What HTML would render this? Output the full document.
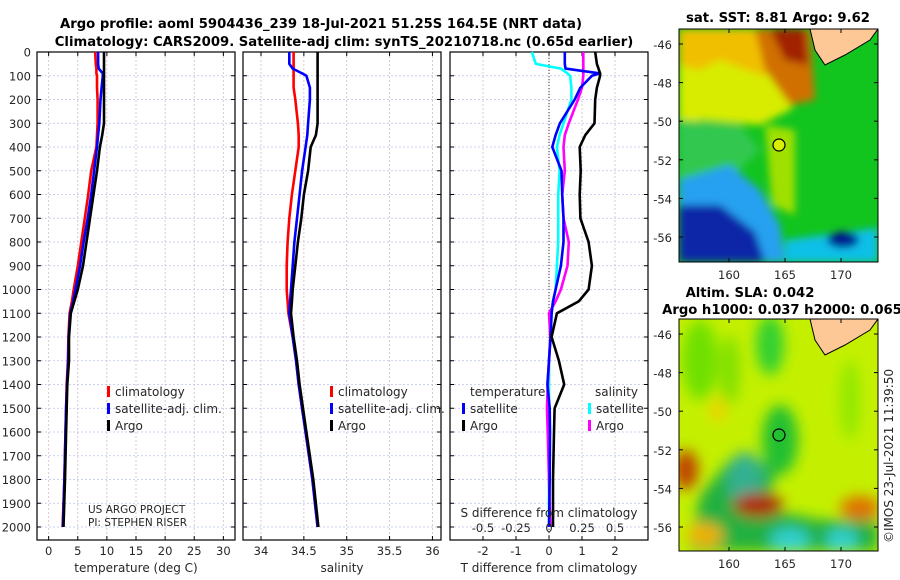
<!DOCTYPE html>
<html><head><meta charset="utf-8"><style>
body{margin:0;background:#fff;}
svg{display:block;font-family:"DejaVu Sans","Liberation Sans",sans-serif;}
.t{font-size:12px;fill:#262626}
.k{font-size:11.5px;fill:#262626}
.ti{font-size:13.2px;font-weight:bold;fill:#000}
</style></head><body>
<svg id="c" width="900" height="580" xmlns="http://www.w3.org/2000/svg">
<defs>
<filter id="bl" x="-20%" y="-20%" width="140%" height="140%"><feGaussianBlur stdDeviation="7"/></filter>
<filter id="bl2" x="-20%" y="-20%" width="140%" height="140%"><feGaussianBlur stdDeviation="4"/></filter>
<clipPath id="m1"><rect x="679" y="29" width="199" height="233"/></clipPath>
<clipPath id="m2"><rect x="679" y="319" width="199" height="232"/></clipPath>
</defs>
<text class="ti" x="321" y="28" text-anchor="middle">Argo profile: aoml 5904436_239 18-Jul-2021 51.25S 164.5E (NRT data)</text>
<text class="ti" x="344" y="46" text-anchor="middle">Climatology: CARS2009. Satellite-adj clim: synTS_20210718.nc (0.65d earlier)</text>

<!-- SST map -->
<g clip-path="url(#m1)">
<rect x="679" y="29" width="199" height="233" fill="#12c41e"/>
<g filter="url(#bl2)">
<path d="M679,29 L800,29 L810,80 L790,110 L760,125 L700,120 L679,135 Z" fill="#d8ec00"/>
<path d="M679,29 L790,29 L800,70 L760,75 L720,60 L700,70 L679,65 Z" fill="#f0c000"/>
<path d="M755,29 L810,29 L815,100 L790,105 L765,70 Z" fill="#d07000"/>
<path d="M770,29 L805,29 L808,65 L785,60 Z" fill="#a02000"/>
<path d="M679,120 L740,125 L760,150 L740,170 L720,180 L679,185 Z" fill="#30c850"/>
<path d="M765,125 L795,130 L795,215 L772,205 Z" fill="#a0e000"/>
<path d="M679,180 L730,165 L760,190 L780,225 L785,262 L679,262 Z" fill="#28a0f0"/>
<path d="M679,205 L720,205 L755,232 L765,262 L679,262 Z" fill="#0828a8"/>
<path d="M785,240 L878,228 L878,262 L785,262 Z" fill="#10c0e8"/>
<ellipse cx="843" cy="240" rx="16" ry="8" fill="#001890"/>
</g>
<path d="M810,29 L878,29 L870,40 L845,55 L825,65 L815,50 Z" fill="#fdc896" stroke="#000" stroke-width="1"/>
<circle cx="779" cy="145" r="6" fill="#d8f000" stroke="#000" stroke-width="1.2"/>
</g>
<rect x="679" y="29" width="199" height="233" fill="none" stroke="#000"/>
<text class="ti" x="778" y="22" text-anchor="middle">sat. SST: 8.81 Argo: 9.62</text>

<!-- SLA map -->
<g clip-path="url(#m2)">
<rect x="679" y="319" width="199" height="232" fill="#c4f000"/>
<g filter="url(#bl)">
<ellipse cx="700" cy="360" rx="18" ry="40" fill="#70e000"/>
<ellipse cx="770" cy="345" rx="14" ry="30" fill="#30d030"/>
<ellipse cx="730" cy="370" rx="10" ry="35" fill="#80e000"/>
<ellipse cx="780" cy="440" rx="18" ry="35" fill="#20c030"/>
<ellipse cx="850" cy="400" rx="10" ry="40" fill="#90e800"/>
<path d="M730,460 L775,465 L770,510 L820,520 L878,520 L878,551 L690,551 L700,495 Z" fill="#20b040"/>
<ellipse cx="745" cy="480" rx="18" ry="28" fill="#30b090"/>
<ellipse cx="790" cy="540" rx="20" ry="12" fill="#30d0d0"/>
<ellipse cx="842" cy="540" rx="16" ry="12" fill="#30d0d0"/>
<ellipse cx="758" cy="505" rx="25" ry="12" fill="#b02000"/>
<ellipse cx="686" cy="470" rx="12" ry="20" fill="#c04000"/>
<ellipse cx="860" cy="508" rx="20" ry="12" fill="#e07000"/>
<ellipse cx="705" cy="535" rx="18" ry="12" fill="#f0b000"/>
<ellipse cx="718" cy="410" rx="8" ry="12" fill="#f0d000"/>
</g>
<path d="M810,319 L878,319 L870,330 L845,345 L825,355 L815,340 Z" fill="#fdc896" stroke="#000" stroke-width="1"/>
<circle cx="779" cy="435" r="6" fill="none" stroke="#000" stroke-width="1.2"/>
</g>
<rect x="679" y="319" width="199" height="232" fill="none" stroke="#000"/>
<text class="ti" x="750" y="297" text-anchor="middle">Altim. SLA: 0.042</text>
<text class="ti" x="782" y="314" text-anchor="middle">Argo h1000: 0.037 h2000: 0.065</text>
<text class="t" transform="translate(893,543) rotate(-90)">©IMOS 23-Jul-2021 11:39:50</text>
<g id="dyn"></g>
</svg>
<script>
// ---- data ----
const depths = [0,50,70,90,100,150,200,300,350,400,500,600,700,800,900,1000,1050,1100,1200,1300,1400,1500,1600,1800,2000];
const tClim  = [8.0,8.1,8.2,8.2,8.3,8.3,8.4,8.4,8.3,8.2,7.3,6.8,6.2,5.6,5.0,4.3,4.0,3.6,3.4,3.3,3.1,3.0,2.9,2.7,2.4];
const tSat   = [8.5,8.5,8.6,9.3,9.3,9.1,8.9,8.7,8.5,8.3,7.8,7.3,6.7,6.0,5.4,4.6,4.2,3.7,3.45,3.35,3.15,3.0,2.9,2.7,2.45];
const tArgo  = [9.5,9.5,9.5,9.5,9.5,9.5,9.5,9.5,9.2,8.8,8.3,7.7,7.1,6.5,5.9,5.0,4.4,3.8,3.5,3.5,3.2,3.1,3.0,2.8,2.55];
const sClim  = [34.38,34.38,34.38,34.38,34.38,34.38,34.40,34.43,34.44,34.44,34.40,34.36,34.33,34.31,34.30,34.30,34.31,34.32,34.37,34.41,34.44,34.48,34.52,34.60,34.66];
const sSat   = [34.33,34.33,34.37,34.48,34.53,34.57,34.57,34.55,34.54,34.52,34.48,34.45,34.42,34.39,34.37,34.35,34.34,34.33,34.37,34.41,34.44,34.48,34.52,34.60,34.66];
const sArgo  = [34.66,34.66,34.66,34.66,34.66,34.66,34.66,34.66,34.64,34.58,34.55,34.50,34.47,34.43,34.40,34.37,34.36,34.35,34.38,34.42,34.45,34.49,34.53,34.61,34.67];
const dTSat  = [0.48,0.48,0.50,1.55,1.3,0.95,0.78,0.33,0.2,0.1,0.38,0.4,0.44,0.44,0.36,0.2,0.12,0.08,0.05,0.0,-0.05,0.02,0.03,0.02,0.0];
const dTArgo = [1.4,1.45,1.5,1.55,1.55,1.45,1.4,1.38,1.1,0.93,0.96,0.93,0.95,1.2,1.3,1.2,0.9,0.24,0.08,0.3,0.46,0.17,0.15,0.12,0.12];
const dSSat  = [-0.13,-0.1,0.09,0.14,0.16,0.17,0.17,0.11,0.08,0.06,0.08,0.07,0.07,0.07,0.06,0.05,0.03,0.02,0.01,0.0,0.0,0.0,0.0,0.0,0.0];
const dSArgo = [0.26,0.26,0.26,0.26,0.26,0.25,0.22,0.15,0.12,0.11,0.12,0.10,0.11,0.15,0.14,0.09,0.05,0.0,0.01,0.0,-0.01,-0.015,-0.01,0.0,0.01];
const depthTicks = [0,100,200,300,400,500,600,700,800,900,1000,1100,1200,1300,1400,1500,1600,1700,1800,1900,2000];
const tTicks = [0,5,10,15,20,25,30];
const sTicks = [34,34.5,35,35.5,36];
const dTTicks = [-2,-1,0,1,2];
const dSTicks = [-0.5,-0.25,0,0.25,0.5];
const dSTickLabels = ['-0.5','-0.25','0','0.25','0.5'];
const latTicks = [-46,-48,-50,-52,-54,-56];
const lonTicks = [160,165,170];

const NS='http://www.w3.org/2000/svg';
const G=document.getElementById('dyn');
function el(tag,attrs,parent){const e=document.createElementNS(NS,tag);for(const k in attrs)e.setAttribute(k,attrs[k]);(parent||G).appendChild(e);return e;}
const Y0=52,Y1=540;
const yD=d=>Y0+d*0.2375;
function lin(d0,d1,r0,r1){return v=>r0+(v-d0)*(r1-r0)/(d1-d0);}
const panels=[
 {x0:37,x1:235,f:lin(-2,32,37,235),ticks:tTicks,labels:tTicks.map(String),xl:'temperature (deg C)',name:'temperature'},
 {x0:243,x1:441,f:lin(33.79,36.1,243,441),ticks:sTicks,labels:sTicks.map(String),xl:'salinity',name:'salinity'},
 {x0:450,x1:648,f:lin(-3,3,450,648),ticks:dTTicks,labels:dTTicks.map(String),xl:'T difference from climatology',name:'difference'}
];
panels.forEach((p,i)=>{
  const g=el('g',{});
  
  
  depthTicks.forEach(d=>{const l=el('line',{x1:p.x0,x2:p.x1,y1:yD(d),y2:yD(d),stroke:'#b8c4ec','stroke-width':0.8,'stroke-dasharray':'2,2'},g);
    
    
    el('line',{x1:p.x0,x2:p.x0+4,y1:yD(d),y2:yD(d),stroke:'#000'},g);el('line',{x1:p.x1,x2:p.x1-4,y1:yD(d),y2:yD(d),stroke:'#000'},g);});
  p.ticks.forEach((t,j)=>{const x=p.f(t);const l=el('line',{x1:x,x2:x,y1:Y0,y2:Y1,stroke:'#d8b8c8','stroke-width':0.8,'stroke-dasharray':'2,2'},g);
    
    
    el('line',{x1:x,x2:x,y1:Y1,y2:Y1-4,stroke:'#000'},g);el('line',{x1:x,x2:x,y1:Y0,y2:Y0+4,stroke:'#000'},g);
    const tx=el('text',{x:x,y:555,'text-anchor':'middle',class:'k'},g);tx.textContent=p.labels[j];
    
    });
  const r=el('rect',{x:p.x0,y:Y0,width:p.x1-p.x0,height:Y1-Y0,fill:'none',stroke:'#000','stroke-width':1.2},g);
  
  
  const xl=el('text',{x:(p.x0+p.x1)/2,y:572,'text-anchor':'middle',class:'t'},g);xl.textContent=p.xl;
  
  
});
depthTicks.forEach(d=>{const t=el('text',{x:31,y:yD(d)+4.5,'text-anchor':'end',class:'k'});t.textContent=d;
  
  });
const zl=el('line',{x1:panels[2].f(0),x2:panels[2].f(0),y1:Y0,y2:Y1,stroke:'#333','stroke-dasharray':'1,2'});


function series(vals,f,color,name){
  const pts=vals.map((v,i)=>f(v).toFixed(1)+','+yD(depths[i]).toFixed(1)).join(' ');
  const pl=el('polyline',{points:pts,fill:'none',stroke:color,'stroke-width':2.6,'stroke-linejoin':'round'});
  
  
}
const fT=panels[0].f,fS=panels[1].f,fD=panels[2].f,fDS=lin(-0.75,0.75,450,648);
series(tClim,fT,'#ff0000','temperature-climatology-line');
series(tSat,fT,'#0000ff','temperature-satellite-line');
series(tArgo,fT,'#000000','temperature-argo-line');
series(sClim,fS,'#ff0000','salinity-climatology-line');
series(sSat,fS,'#0000ff','salinity-satellite-line');
series(sArgo,fS,'#000000','salinity-argo-line');
series(dSSat,fDS,'#00ffff','salinity-satellite-diff-line');
series(dSArgo,fDS,'#ff00ff','salinity-argo-diff-line');
series(dTSat,fD,'#0000ff','temperature-satellite-diff-line');
series(dTArgo,fD,'#000000','temperature-argo-diff-line');
dSTicks.forEach((t,j)=>{const tx=el('text',{x:fDS(t),y:532,'text-anchor':'middle',class:'k'});tx.textContent=dSTickLabels[j];
  
  });
const sdt=el('text',{x:549,y:517,'text-anchor':'middle',class:'t'});sdt.textContent='S difference from climatology';


function leg(x,y,color,label,name){
  const r=el('rect',{x:x,y:y-10,width:3,height:11,fill:color});
  
  
  const t=el('text',{x:x+8,y:y,class:'t'});t.textContent=label;
  
  
}
leg(107,396,'#ff0000','climatology','legend-t-climatology');
leg(107,413,'#0000ff','satellite-adj. clim.','legend-t-satellite');
leg(107,430,'#000000','Argo','legend-t-argo');
leg(330,396,'#ff0000','climatology','legend-s-climatology');
leg(330,413,'#0000ff','satellite-adj. clim.','legend-s-satellite');
leg(330,430,'#000000','Argo','legend-s-argo');
const lt=el('text',{x:470,y:396,class:'t'});lt.textContent='temperature';


const ls=el('text',{x:595,y:396,class:'t'});ls.textContent='salinity';


leg(462,413,'#0000ff','satellite','legend-dt-satellite');
leg(462,430,'#000000','Argo','legend-dt-argo');
leg(588,413,'#00ffff','satellite','legend-ds-satellite');
leg(588,430,'#ff00ff','Argo','legend-ds-argo');
const pr1=el('text',{x:88,y:513,class:'t'});pr1.textContent='US ARGO PROJECT';pr1.style.fontSize='10.5px';


const pr2=el('text',{x:88,y:526,class:'t'});pr2.textContent='PI: STEPHEN RISER';pr2.style.fontSize='10.5px';


const lonX=lin(160,170,729,841);
[[29,262,lin(-46,-56,44,237)],[319,551,lin(-46,-56,334,527)]].forEach(([top,bot,fy],mi)=>{
  latTicks.forEach(l=>{const y=fy(l);const t=el('text',{x:672,y:y+5,'text-anchor':'end',class:'k'});t.textContent=l;
    
    
    el('line',{x1:679,x2:683,y1:y,y2:y,stroke:'#000'});el('line',{x1:878,x2:874,y1:y,y2:y,stroke:'#000'});});
  lonTicks.forEach(l=>{const x=lonX(l);const t=el('text',{x:x,y:bot+17,'text-anchor':'middle',class:'k'});t.textContent=l;
    
    
    el('line',{x1:x,x2:x,y1:bot,y2:bot-4,stroke:'#000'});el('line',{x1:x,x2:x,y1:top,y2:top+4,stroke:'#000'});});
});
</script>
</body></html>
